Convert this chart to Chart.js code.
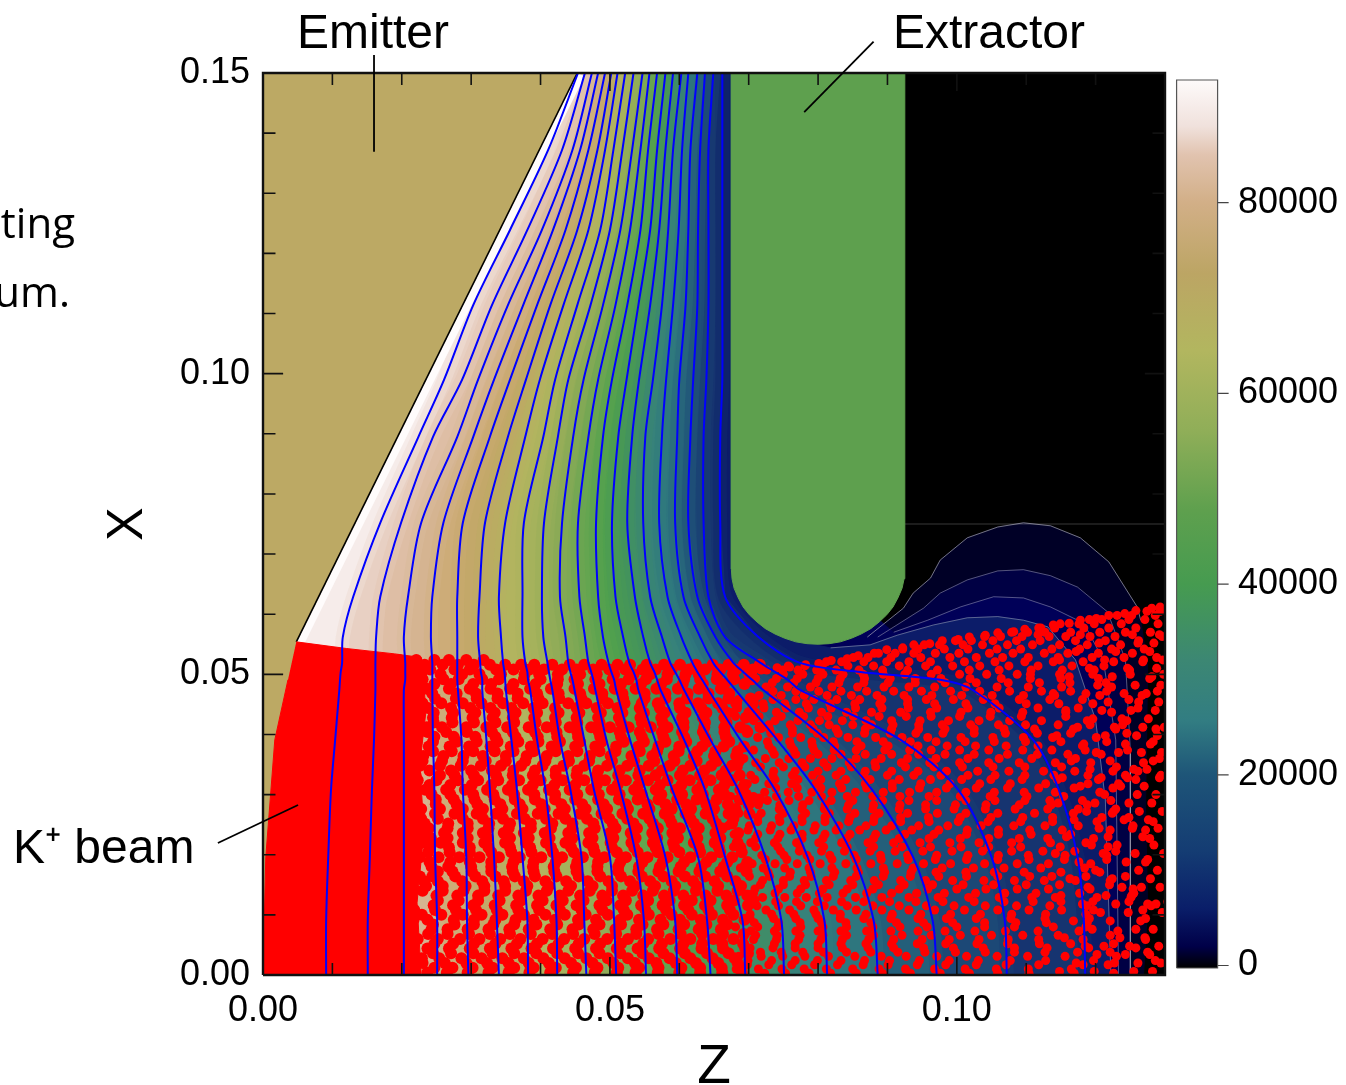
<!DOCTYPE html>
<html>
<head>
<meta charset="utf-8">
<title>Emitter field</title>
<script src="https://cdn.jsdelivr.net/npm/chart.js@4"></script>
<style>
  html, body { margin: 0; background: #fff; overflow: hidden; }
  canvas { display: block; }
</style>
</head>
<body>
<canvas id="chart" width="1346" height="1085"></canvas>
<script>
// all z / x values below are in units of 1e-4
const UNIT = 1e-4;

const xTicks = [0, 0.05, 0.10];
const yTicks = [0, 0.05, 0.10, 0.15];
const barTicks = [0, 20000, 40000, 60000, 80000];
const minorZ = [100, 200, 300, 400, 600, 700, 800, 900, 1100, 1200];
const majorZ = [500, 1000];
const minorX = [100, 200, 300, 400, 600, 700, 800, 900, 1100, 1200, 1300, 1400];
const majorX = [500, 1000];

// rows of x where each contour was read
const rowsX = [1500,1372,1239,1114,990,895,752,629,562,519,504,491,474,391,308,196,91,0];
const line1 = [454,411,356,303,261,224,169,130,115,114,112,111,110,104,98,94,91,91];
const line2 = [464,431,381,330,287,245,199,169,163,162,162,162,162,160,157,154,151,151];
const line3 = [474,446,402,353,310,280,228,209,203,205,205,205,203,203,203,203,203,203];
const line4 = [483,457,418,375,333,303,260,244,242,244,244,244,244,245,247,248,251,251];
const line5 = [493,469,436,395,356,327,288,280,280,280,280,280,281,286,288,293,294,296];
const line6 = [502,482,453,414,379,353,320,312,310,313,314,316,316,322,327,333,337,340];
const line7 = [511,493,469,433,399,378,349,340,343,346,348,349,350,358,366,374,381,382];
const line8 = [522,505,486,453,421,404,376,374,374,378,381,382,385,395,407,417,423,424];
const line9 = [534,518,500,472,440,425,405,402,404,410,412,414,417,428,443,459,463,466];
const line10 = [547,532,515,490,462,447,431,428,436,440,443,446,449,463,477,500,506,509];
const line11 = [557,544,529,508,483,469,454,456,464,469,473,476,479,495,515,538,549,552];
const line12 = [568,555,544,525,503,490,480,483,490,498,502,506,509,529,551,580,594,597];
const line13 = [580,568,558,541,524,512,503,508,519,528,534,538,541,565,590,627,640,645];
const line14 = [591,580,571,558,542,532,525,536,548,558,564,568,573,607,637,666,691,695];
const line15 = [603,591,584,575,562,551,548,558,575,587,594,600,607,645,685,724,747,751];
const line16 = [613,604,599,591,581,575,571,583,603,619,626,633,642,688,738,785,809,813];
const line17 = [626,616,613,609,600,597,594,606,630,649,659,669,681,741,796,851,880,886];
const line18 = [637,630,627,626,620,616,613,626,652,678,692,705,721,812,878,937,965,971];
const line19 = [649,642,642,642,639,635,635,642,666,717,738,756,774,919,1002,1050,1069,1072];
const line20 = [662,662,662,662,662,659,659,666,714,774,861,976,1023,1110,1147,1174,1183,1185];

// low potential contours right of the extractor
const c1Z = [871,923,937,962,976,1015,1059,1096,1135,1178,1219,1260,1265,1275,1272,1275,1269];
const c1X = [562,610,635,660,690,727,745,752,747,727,687,612,590,512,279,113,0];
const c2Z = [886,952,976,1015,1059,1096,1135,1174,1217,1243,1250,1250];
const c2X = [562,610,635,657,672,674,664,645,604,524,374,0];
const c3Z = [909,958,1005,1053,1096,1135,1183,1211,1229,1233];
const c3X = [570,590,612,629,627,612,585,524,391,0];
const c4Z = [675,675,702,760,818,875,914,966,1015,1059,1096,1131,1171,1200,1214,1222];
const c4X = [1500,674,599,557,544,549,565,582,594,596,590,579,524,424,291,0];

const emitterZ = [0,453,48,36,17,4,0];
const emitterX = [1500,1500,554,491,391,196,0];
const extractorZ = [675,675,676,679,685,692,701,712,724,738,752,768,784,800,816,832,848,862,876,888,899,908,915,921,924,925,925];
const extractorX = [1500,675,659,643,627,612,599,587,576,567,560,554,551,550,551,554,560,567,576,587,599,612,627,643,659,675,1500];
const gridlineZ = [925,1300];
const gridlineX = [750,750];

// K+ beam: the solid part and then the stipple, row by row
const beamZ = [48,120,190,228,235,226,232,222,228,0,4,17,36];
const beamX = [554,543,534,528,440,350,240,120,0,0,196,391,491];
const denseRowX = [524,516,508,500,492,452,412,372,332,292,252,212,172,132,92,52,12,484,444,404,364,324,284,244,204,164,124,84,44,4,476,436,396,356,316,276,236,196,156,116,76,36,468,428,388,348,308,268,228,188,148,108,68,28,460,420,380,340,300,260,220,180,140,100,60,20];
const denseShift = [0,0,0,0,11,-6,14,-13,3,9,-15,7,-2,12,-9,15,-4,6,-12,2,13,-7,10,-14,5,-1,15,-10,8,-5,-13,12,1,-8,14,-3,9,-15,4,11,-11,6,-6,13,-2,-14,7,15,-9,3,10,-12,-4,8,14,-7,1,-15,12,5,-10,15,-3,9,-13,6];
const denseRows = [
  [196,221,247,268,293,318],
  [233,259,281,304,327,349,372,391,417,442,463,488,511,529,553,578,601,624,648,671,693,716],
  [214,241,276,298,336,361,384,405,431,452,476,499,522,547,566,589,614,637,659,682,706],
  [228,256,287,312,343,377,398,425,457,481,506,534,558,583,609,628,655,677,701],
  [219,249,271,305,329,365,389,414,438,468,493,516,541,571,596,619,643,668,694],
  [236,263,294,321,352,381,409,446,472,503,527,552,575,606,633,662,688,712],
  [222,244,279,308,338,369,395,428,459,486,513,545,569,592,622,651,674,703],
  [231,258,285,316,347,374,403,435,466,498,521,556,581,612,639,665,697],
  [217,252,273,301,333,357,386,419,449,478,509,538,563,598,627,658,684],
  [240,266,296,325,354,383,412,441,474,504,531,561,588,616,645,678,706],
  [225,248,282,310,341,371,401,432,461,491,519,549,577,604,636,668,691],
  [234,261,291,318,349,378,408,437,469,496,528,559,586,621,650,681],
  [220,254,275,303,331,362,392,422,454,484,514,543,572,601,631,661,699],
  [238,268,298,327,356,385,416,445,477,507,536,566,594,626,656,686],
  [226,246,284,313,344,373,399,430,463,489,524,551,582,610,640,672,703],
  [232,259,289,320,351,380,411,440,471,501,533,560,591,618,647,677],
  [216,251,277,306,335,366,394,426,455,486,516,546,574,607,634,665,693],
  [241,265,297,323,355,387,418,448,479,510,539,568,599,628,659,688],
  [224,250,283,311,340,370,402,433,464,493,523,555,584,613,644,674],
  [235,262,292,328,358,390,421,451,482,512,541,573,602,632,663,696],
  [218,247,276,304,337,367,396,427,458,488,518,548,579,608,637,669],
  [230,257,288,317,346,376,407,439,470,500,530,562,590,622,652,683],
  [239,269,299,332,360,391,420,450,481,513,544,570,600,629,660,690],
  [221,253,280,309,339,368,400,429,460,492,522,553,583,615,642,675],
  [233,264,293,324,353,382,413,443,473,505,535,564,595,625,654,685],
  [227,245,278,307,336,364,393,424,456,487,517,547,578,609,638,670],
  [237,267,295,326,357,388,417,447,480,508,540,571,603,630,664,692],
  [219,255,286,314,342,372,404,434,465,495,526,557,587,617,649,679],
  [229,260,290,319,350,379,410,442,472,502,532,563,593,624,655,687],
  [242,270,300,330,359,389,419,452,483,515,542,574,605,635,667,695],
  [223,249,281,311,341,369,398,428,462,490,520,550,580,611,641,673],
  [234,262,294,322,352,383,414,444,475,506,537,567,597,627,657,689],
  [216,246,274,305,334,363,395,423,453,485,515,545,576,606,636,666],
  [238,266,296,329,358,386,415,449,478,511,543,572,601,633,662,694],
  [226,256,287,315,345,375,406,436,467,497,527,558,589,619,651,680],
  [231,258,291,320,348,377,409,438,468,499,529,560,592,620,653,684],
  [220,252,279,308,338,367,397,431,461,491,521,552,581,614,643,676],
  [241,268,298,327,355,385,416,446,476,507,538,569,598,631,661,691],
  [228,248,283,312,343,372,403,433,464,494,525,554,585,616,647,677],
  [235,263,292,323,354,384,412,441,474,504,534,565,596,626,658,688],
  [217,254,277,306,336,366,394,425,457,487,519,549,579,610,639,671],
  [239,265,297,325,356,388,418,448,479,509,541,571,602,634,665,693],
  [224,250,285,313,344,373,401,432,463,495,524,556,586,618,648,678],
  [232,259,289,318,347,378,408,439,470,500,531,561,591,621,652,683],
  [222,247,281,310,340,370,399,430,459,490,522,551,582,612,642,674],
  [240,269,299,328,357,386,417,447,477,510,539,570,600,630,660,690],
  [227,257,284,316,346,375,405,435,466,496,528,559,588,619,650,681],
  [233,261,293,321,351,381,411,442,473,503,533,564,594,623,656,686],
  [218,251,275,304,333,365,392,422,455,484,514,546,577,607,635,668],
  [237,267,295,326,358,387,419,450,480,512,544,573,604,636,666,695],
  [225,249,282,309,339,371,402,434,465,493,526,555,584,615,646,679],
  [230,260,290,319,349,380,410,440,471,501,532,563,593,625,654,685],
  [242,270,301,331,360,390,421,451,482,513,542,574,606,637,667,697],
  [221,246,278,307,337,368,396,427,458,489,518,548,578,608,640,672],
  [234,264,294,324,353,383,413,445,475,505,536,566,597,628,657,689],
  [219,253,280,311,342,369,400,429,460,492,523,553,583,613,644,675],
  [238,268,296,327,356,385,415,449,478,508,540,569,599,632,663,692],
  [226,255,286,315,345,376,407,437,468,498,529,558,590,620,651,682],
  [231,258,291,320,350,379,409,441,472,502,534,562,592,622,653,684],
  [223,247,283,312,341,372,403,431,462,494,520,552,581,611,643,673],
  [240,266,298,329,359,389,418,446,479,511,541,572,601,631,661,694],
  [228,252,285,314,344,374,404,436,467,497,527,557,587,617,649,680],
  [233,262,292,322,352,382,412,443,474,506,535,565,595,627,658,687],
  [220,248,279,306,336,367,398,426,456,488,516,547,580,609,638,669],
  [236,265,297,325,355,384,416,447,476,509,539,568,600,629,662,691],
  [224,256,287,317,348,377,406,438,469,499,530,561,589,618,650,678]
];
const lipZ = [700,718,741,759,782,801,819,842,858,881,899,922,938,961,979,1002,1018,1041,1059,1082,1098,1121,1139,1162,1178,1201,1219,1242,1258,1281,1293];
const lipX = [505,507,511,512,516,518,523,526,531,535,541,544,549,551,556,558,562,565,569,571,575,577,582,585,590,593,598,601,606,610,612];
const sparseRowX = [605,598,591,584,577,570,563,556,549,542,535,528,521,514,507,500,458,416,374,332,290,248,206,164,122,80,38,493,451,409,367,325,283,241,199,157,115,73,31,486,444,402,360,318,276,234,192,150,108,66,24,479,437,395,353,311,269,227,185,143,101,59,17,472,430,388,346,304,262,220,178,136,94,52,10,465,423,381,339,297,255,213,171,129,87,45,3];
const sparseShift = [0,0,0,0,0,0,0,0,0,0,0,0,0,0,0,17,-9,21,-18,4,12,-21,8,-3,19,-14,6,22,-11,-6,15,-20,2,10,-16,20,-4,13,-22,7,-12,18,1,-8,16,-19,11,-2,21,-15,5,14,-10,-17,9,22,-5,3,-21,12,-13,18,-7,6,-18,15,-1,20,-11,8,-22,17,-4,10,-16,2,19,-9,13,-20,4,-14,21,-6,11,-12,3];
const sparseRows = [
  [1274,1293],
  [1231,1252,1286],
  [1191,1209,1248,1271],
  [1149,1176,1198,1237,1290],
  [1118,1141,1183,1219,1258],
  [1079,1102,1127,1164,1206,1243,1279],
  [1040,1063,1094,1133,1157,1192,1228,1296],
  [998,1021,1052,1086,1120,1171,1214,1262],
  [953,975,1009,1037,1073,1109,1148,1188,1236],
  [922,944,982,1016,1058,1092,1137,1177,1223,1270],
  [887,911,938,969,1003,1047,1081,1126,1160,1204,1253],
  [851,872,905,948,990,1028,1066,1103,1146,1195,1241,1288],
  [812,834,866,899,931,962,1011,1055,1098,1139,1182,1226,1268],
  [757,781,806,843,880,917,955,994,1033,1075,1117,1166,1212],
  [702,726,749,771,798,826,859,893,929,972,1018,1061,1107,1152,1198,1249],
  [733,761,790,819,848,877,908,946,987,1026,1070,1089,1131,1179,1233,1281],
  [694,717,744,777,803,836,869,901,938,965,1004,1047,1099,1143,1190,1257],
  [708,739,768,795,829,856,887,924,958,999,1039,1078,1125,1171,1218],
  [725,752,783,812,841,873,914,950,981,1022,1064,1113,1155,1203,1264],
  [699,731,759,788,822,862,896,934,973,1012,1051,1094,1136,1185,1239,1290],
  [715,746,775,807,838,881,919,959,1001,1043,1086,1122,1169,1210],
  [691,722,754,786,817,851,890,927,966,1008,1056,1103,1148,1196,1275],
  [738,765,797,830,867,903,943,985,1029,1071,1116,1162,1221],
  [704,733,762,793,825,858,897,936,977,1017,1062,1108,1140,1189,1246],
  [720,750,780,815,847,884,922,961,1006,1049,1091,1131,1177,1229,1285],
  [695,727,756,789,821,855,893,932,971,1014,1054,1097,1153,1200],
  [711,741,772,802,835,870,909,948,992,1035,1077,1121,1168,1215,1269],
  [688,718,748,778,810,845,882,918,955,997,1042,1084,1128,1182,1256],
  [732,763,794,828,864,900,940,979,1024,1066,1111,1158,1207],
  [703,736,769,799,832,874,912,951,989,1031,1074,1118,1174,1235,1293],
  [722,753,785,818,853,891,930,968,1010,1058,1101,1145,1193],
  [693,729,758,791,824,860,895,937,982,1027,1069,1114,1165,1224,1278],
  [712,743,776,808,842,878,916,953,996,1040,1088,1134,1186],
  [689,721,751,784,816,850,888,925,964,1005,1050,1095,1142,1211,1262],
  [735,767,800,833,868,906,945,987,1032,1076,1119,1172,1232],
  [700,730,760,792,827,861,899,935,974,1019,1063,1106,1151,1201],
  [716,747,779,813,846,883,921,960,1000,1045,1090,1138,1191,1284],
  [690,724,755,787,820,857,892,931,970,1013,1057,1104,1163,1219],
  [708,740,771,803,837,875,913,949,993,1036,1080,1124,1178,1252],
  [727,758,790,823,859,894,933,976,1021,1067,1112,1156,1208],
  [696,734,766,798,831,866,904,942,983,1028,1073,1129,1187,1273],
  [714,745,781,811,849,886,923,962,1007,1052,1098,1146,1227],
  [692,723,757,788,819,854,890,928,969,1015,1060,1107,1170,1291],
  [706,737,770,805,839,876,915,956,998,1041,1085,1136,1197,1241],
  [728,761,793,826,863,901,939,980,1025,1068,1115,1159,1213],
  [698,732,764,796,829,865,902,944,986,1033,1079,1126,1183],
  [713,744,777,809,844,880,919,958,1003,1048,1093,1144,1205,1264],
  [687,719,752,784,818,852,889,926,967,1011,1055,1102,1150,1222],
  [704,738,773,801,834,871,910,947,990,1038,1083,1130,1176,1247],
  [725,756,789,822,856,895,936,978,1020,1065,1110,1161,1236],
  [694,728,762,794,828,862,898,941,984,1026,1072,1123,1192,1281],
  [711,742,775,806,843,881,917,954,999,1044,1089,1137,1209],
  [688,720,750,783,815,851,887,929,972,1016,1059,1105,1167,1233],
  [730,760,792,825,860,900,938,975,1023,1069,1113,1155,1218],
  [701,735,768,799,836,873,911,952,995,1037,1081,1133,1184,1260],
  [717,748,782,812,848,885,924,963,1006,1051,1096,1147,1203],
  [691,723,755,787,821,858,893,934,977,1018,1064,1117,1173,1229],
  [707,739,774,804,838,877,914,957,1002,1043,1087,1128,1194,1275],
  [726,759,791,824,861,897,935,973,1012,1061,1108,1153,1214],
  [697,731,763,795,830,867,905,946,988,1030,1075,1120,1180,1242],
  [715,746,778,810,845,882,920,961,1004,1047,1092,1141,1199],
  [689,722,754,786,817,855,891,932,971,1014,1056,1100,1164,1254],
  [705,736,769,802,835,872,908,950,991,1035,1078,1125,1189,1225],
  [729,762,795,827,864,903,943,985,1027,1070,1116,1158,1210,1283],
  [699,733,765,797,832,869,906,945,981,1022,1066,1111,1175],
  [712,744,776,807,841,879,918,955,997,1039,1084,1135,1201,1268],
  [686,718,751,782,814,849,884,927,968,1009,1053,1099,1152,1231],
  [703,737,771,800,834,874,912,951,993,1034,1077,1122,1186],
  [724,755,788,821,857,892,930,970,1016,1060,1106,1149,1220,1259],
  [695,729,761,793,826,864,901,939,982,1024,1071,1127,1178],
  [710,743,774,809,842,878,916,959,1001,1046,1090,1143,1206],
  [690,721,753,785,819,853,889,925,965,1010,1052,1097,1160,1238],
  [706,740,772,804,836,870,909,948,989,1032,1082,1131,1195,1276],
  [727,757,790,823,859,896,933,974,1019,1063,1109,1154,1216],
  [698,730,764,796,828,866,904,942,984,1028,1073,1119,1181],
  [713,745,778,811,846,883,922,962,1005,1049,1094,1139,1204,1265],
  [688,719,752,783,816,850,887,928,969,1013,1057,1103,1169,1226],
  [704,738,770,801,833,871,910,953,995,1036,1080,1126,1190],
  [723,754,787,820,855,893,931,972,1017,1062,1112,1157,1212,1248],
  [694,727,760,792,825,862,899,938,980,1025,1068,1121,1174],
  [709,741,773,806,840,876,915,956,998,1041,1088,1134,1198,1279],
  [692,724,756,788,822,856,894,935,976,1020,1060,1106,1163,1232],
  [707,739,768,803,837,875,913,949,992,1033,1076,1129,1185],
  [726,758,789,819,860,898,937,979,1023,1067,1114,1148,1208,1257],
  [697,732,763,794,829,865,902,941,983,1029,1074,1118,1177],
  [714,747,779,812,847,884,921,964,1007,1050,1095,1142,1202,1270],
  [689,720,750,784,815,852,890,930,973,1015,1056,1101,1166,1223],
  [703,735,767,798,831,868,907,947,990,1037,1083,1132,1193]
];
// extra stipple toward the right edge of the plot
const edgeRowX = [566,552,538,524,510,496,482,468,454,440,426,412,398,384,370,356,342,328,314,300,286,272,258,244,230,216,202,188,174,160,146,132,118,104,90,76,62,48,34,20,6];
const edgeRows = [
  [1117,1178,1253,1292],[1205,1261,1284],[1172,1229,1278],[1148,1213,1269,1297],[1191,1246,1288],[1162,1224,1281],
  [1203,1257,1294],[1139,1186,1241,1273],[1218,1262,1291],[1157,1209,1251,1286],[1196,1238,1276],[1174,1227,1268,1299],
  [1144,1214,1259,1289],[1183,1243,1279],[1201,1233,1266,1295],[1165,1221,1283],[1192,1255,1274],[1152,1208,1246,1292],
  [1178,1236,1270],[1213,1260,1287],[1146,1199,1248,1281],[1187,1226,1263,1296],[1169,1241,1276],[1205,1253,1290],
  [1158,1218,1268],[1194,1231,1284],[1142,1211,1257,1298],[1176,1244,1272],[1200,1262,1289],[1163,1224,1279],
  [1189,1238,1266,1293],[1150,1215,1252],[1181,1229,1275,1287],[1207,1247,1296],[1168,1221,1265],[1195,1258,1283],
  [1155,1235,1271],[1185,1212,1249,1291],[1202,1243,1278],[1172,1227,1261,1294],[1148,1198,1255,1282]
];

// colour bar
const barValues = [-260,2000,6000,12000,20000,25700,32000,40000,47700,56000,64500,72600,80000,85000,88000,92870];
const barColors = ['#000000','#000048','#0a1e69','#143c73','#1e5578','#327d82','#3c8773','#469b50','#5ea04e','#8fae58','#b2b65f','#bca564','#d2af87','#e1c3af','#f0e1dc','#fdfafa'];
const barTop = 92870;
const barBottom = -260;

// field colours, one per contour, from extractor side to emitter side
const fieldColors = [[22,52,112],[28,72,118],[36,95,122],[46,118,126],[55,130,122],[63,140,105],[70,150,88],[80,160,78],[100,165,80],[125,168,85],[145,172,88],[165,178,92],[178,180,95],[186,172,98],[195,168,105],[205,172,120],[213,180,145],[222,190,165],[232,208,195],[246,236,234]];
const contours = [line20,line19,line18,line17,line16,line15,line14,line13,line12,line11,line10,line9,line8,line7,line6,line5,line4,line3,line2,line1];

function pts(zs, xs) {
    return zs.map((z, i) => ({ x: z * UNIT, y: xs[i] * UNIT }));
}

// region left of a curve, for painting from right to left
function leftOf(zs, xs) {
    return pts(zs, xs).concat([{ x: 0, y: 0 }, { x: 0, y: 0.15 }]);
}

function ticksAlongZ(values, len) {
    const out = [];
    values.forEach(v => {
        out.push({ x: v * UNIT, y: 0 }, { x: v * UNIT, y: len }, { x: NaN, y: NaN });
        out.push({ x: v * UNIT, y: 0.15 }, { x: v * UNIT, y: 0.15 - len }, { x: NaN, y: NaN });
    });
    return out;
}

function ticksAlongX(values, len) {
    const out = [];
    values.forEach(v => {
        out.push({ x: 0, y: v * UNIT }, { x: len, y: v * UNIT }, { x: NaN, y: NaN });
        out.push({ x: 0.13, y: v * UNIT }, { x: 0.13 - len, y: v * UNIT }, { x: NaN, y: NaN });
    });
    return out;
}

const datasets = [];

function area(data, color) {
    datasets.push({ data, showLine: true, fill: 'shape', backgroundColor: color, borderColor: color, borderWidth: 1, pointRadius: 0 });
}

function stroke(data, color, width, extra) {
    datasets.push(Object.assign({ data, showLine: true, fill: false, borderColor: color, borderWidth: width, pointRadius: 0 }, extra));
}

function dots(data, radius) {
    datasets.push({ data, pointRadius: radius, pointBackgroundColor: '#ff0000', pointBorderWidth: 0 });
}

function rgb(c) {
    return `rgb(${c[0]},${c[1]},${c[2]})`;
}

// black ground, then the field from the low side to the emitter
area([{ x: 0, y: 0 }, { x: 0.13, y: 0 }, { x: 0.13, y: 0.15 }, { x: 0, y: 0.15 }], '#000');
area(leftOf(c1Z, c1X), 'rgb(0,0,38)');
area(leftOf(c2Z, c2X), 'rgb(0,0,68)');
area(leftOf(c3Z, c3X), 'rgb(0,0,88)');
area(leftOf(c4Z, c4X), 'rgb(12,28,105)');
contours.forEach((line, i) => area(leftOf(line, rowsX), rgb(fieldColors[i])));

// soften the steps between the flat bands
contours.forEach((line, i) => {
    const a = fieldColors[i];
    const b = i > 0 ? fieldColors[i - 1] : [12, 28, 105];
    const mid = `rgba(${(a[0] + b[0]) >> 1},${(a[1] + b[1]) >> 1},${(a[2] + b[2]) >> 1},0.55)`;
    stroke(pts(line, rowsX), mid, 14, { tension: 0.3 });
});
stroke(pts(emitterZ.slice(1, 3), emitterX.slice(1, 3)), 'rgb(255,252,252)', 16);

stroke(pts(gridlineZ, gridlineX), 'rgba(255,255,255,0.22)', 1);
stroke(pts(c1Z.slice(0, 13), c1X.slice(0, 13)), 'rgba(210,210,210,0.55)', 1);
stroke(pts(c2Z, c2X), 'rgba(210,210,210,0.4)', 1);
stroke(pts(c3Z, c3X), 'rgba(210,210,210,0.4)', 1);
stroke(pts(c4Z.slice(4), c4X.slice(4)), 'rgba(210,210,210,0.4)', 1);

area(pts(emitterZ, emitterX), '#bca964');
stroke(pts(emitterZ.slice(1, 3), emitterX.slice(1, 3)), '#000', 1.6);
area(pts(extractorZ, extractorX), '#5ea04e');

// beam
area(pts(beamZ, beamX), '#ff0000');
denseRows.forEach((row, i) => {
    dots(row.map(z => ({ x: (z + (denseShift[i] || 0)) * UNIT, y: denseRowX[i] * UNIT })), 6);
});
sparseRows.forEach((row, i) => {
    dots(row.map(z => ({ x: (z + (sparseShift[i] || 0)) * UNIT, y: sparseRowX[i] * UNIT })), 4.5);
});
edgeRows.forEach((row, i) => {
    dots(row.map(z => ({ x: z * UNIT, y: edgeRowX[i] * UNIT })), 4.5);
});
dots(pts(lipZ, lipX), 4.5);

// contours on top of the beam
contours.forEach(line => stroke(pts(line, rowsX), '#0000ff', 2, { tension: 0.3 }));

// frame, ticks, leader lines
stroke(ticksAlongZ(minorZ, 0.002).concat(ticksAlongZ(majorZ, 0.003)), '#111', 1.6);
stroke(ticksAlongX(minorX, 0.0018).concat(ticksAlongX(majorX, 0.0029)), '#111', 1.6);
stroke([{ x: 0, y: 0 }, { x: 0.13, y: 0 }, { x: 0.13, y: 0.15 }, { x: 0, y: 0.15 }, { x: 0, y: 0 }], '#111', 2.4, { clip: false });
stroke([{ x: 0.0160, y: 0.1530 }, { x: 0.0160, y: 0.1369 }], '#000', 1.8, { clip: false });
stroke([{ x: 0.0880, y: 0.1552 }, { x: 0.0780, y: 0.1435 }], '#000', 1.8, { clip: false });
stroke([{ x: -0.0065, y: 0.02195 }, { x: 0.00505, y: 0.02827 }], '#000', 1.8, { clip: false });

// colour bar, a thick vertical line on its own value axis
stroke([{ x: 0.13462, y: barBottom }, { x: 0.13462, y: barTop }], ctx => {
    const chart = ctx.chart;
    const scale = chart.scales.cb;
    if (!chart.chartArea || !scale) return '#000';
    const y0 = scale.getPixelForValue(barBottom);
    const y1 = scale.getPixelForValue(barTop);
    if (!isFinite(y0) || !isFinite(y1)) return '#000';
    const grad = chart.ctx.createLinearGradient(0, y0, 0, y1);
    barValues.forEach((v, i) => grad.addColorStop((v - barBottom) / (barTop - barBottom), barColors[i]));
    return grad;
}, 41, { clip: false, yAxisID: 'cb' });
stroke([{ x: 0.13167, y: barBottom }, { x: 0.13758, y: barBottom }, { x: 0.13758, y: barTop }, { x: 0.13167, y: barTop }, { x: 0.13167, y: barBottom }], '#555', 1.2, { clip: false, yAxisID: 'cb' });
const barTickData = [];
barTicks.forEach(v => barTickData.push({ x: 0.13758, y: v }, { x: 0.13917, y: v }, { x: NaN, y: NaN }));
stroke(barTickData, '#444', 1.2, { clip: false, yAxisID: 'cb' });

// first pushed goes to the bottom
datasets.forEach((d, i) => { d.order = datasets.length - i; });

const labelFont = '"Liberation Sans", Arial, sans-serif';

const labelsPlugin = {
    id: 'labels',
    afterDraw(chart) {
        const c = chart.ctx;
        c.save();
        c.fillStyle = '#000';
        c.textBaseline = 'alphabetic';
        c.textAlign = 'left';
        c.font = '48px ' + labelFont;
        c.fillText('Emitter', 297, 48);
        c.fillText('Extractor', 893, 48);
        c.fillText('K\u207A beam', 13, 863);
        c.textAlign = 'right';
        c.font = '42px "Open Sans", sans-serif';
        c.fillText('ting', 75, 238);
        c.fillText('um.', 70, 307);
        c.restore();
    }
};

// tick padding also feeds the chart margins, drop that so the plot box stays put
function noMargins(scale) {
    scale.paddingTop = 0;
    scale.paddingBottom = 0;
    scale.paddingLeft = 0;
    scale.paddingRight = 0;
}

new Chart(document.getElementById('chart'), {
    type: 'scatter',
    data: { datasets },
    plugins: [labelsPlugin],
    options: {
        responsive: false,
        animation: false,
        events: [],
        layout: { autoPadding: false, padding: { left: 98, top: 73, right: 0, bottom: 1 } },
        plugins: { legend: { display: false }, tooltip: { enabled: false } },
        scales: {
            x: {
                type: 'linear',
                position: 'bottom',
                min: 0,
                max: 0.13,
                grid: { display: false },
                border: { display: false },
                afterBuildTicks(scale) { scale.ticks = xTicks.map(value => ({ value })); },
                afterFit(scale) { scale.height = 109; noMargins(scale); },
                ticks: {
                    padding: 6,
                    maxRotation: 0,
                    autoSkip: false,
                    color: '#000',
                    font: { family: labelFont, size: 36 },
                    callback: v => v.toFixed(2)
                },
                title: { display: true, text: 'Z', color: '#000', padding: 0, font: { family: labelFont, size: 55, lineHeight: 0.6 } }
            },
            y: {
                type: 'linear',
                position: 'left',
                min: 0,
                max: 0.15,
                grid: { display: false },
                border: { display: false },
                afterBuildTicks(scale) { scale.ticks = yTicks.map(value => ({ value })); },
                afterFit(scale) { scale.width = 165; noMargins(scale); },
                ticks: {
                    padding: 5,
                    autoSkip: false,
                    color: '#000',
                    font: { family: labelFont, size: 36 },
                    callback: v => v.toFixed(2)
                },
                title: { display: true, text: 'X', color: '#000', padding: 0, font: { family: labelFont, size: 50, lineHeight: 1.2 } }
            },
            cb: {
                type: 'linear',
                position: 'right',
                min: -996,
                max: 93603,
                grid: { display: false },
                border: { display: false },
                afterBuildTicks(scale) { scale.ticks = barTicks.map(value => ({ value })); },
                afterFit(scale) { scale.width = 181; noMargins(scale); },
                ticks: {
                    padding: 65,
                    autoSkip: false,
                    color: '#000',
                    font: { family: labelFont, size: 36 },
                    callback: v => String(v)
                }
            }
        }
    }
});
</script>
</body>
</html>
